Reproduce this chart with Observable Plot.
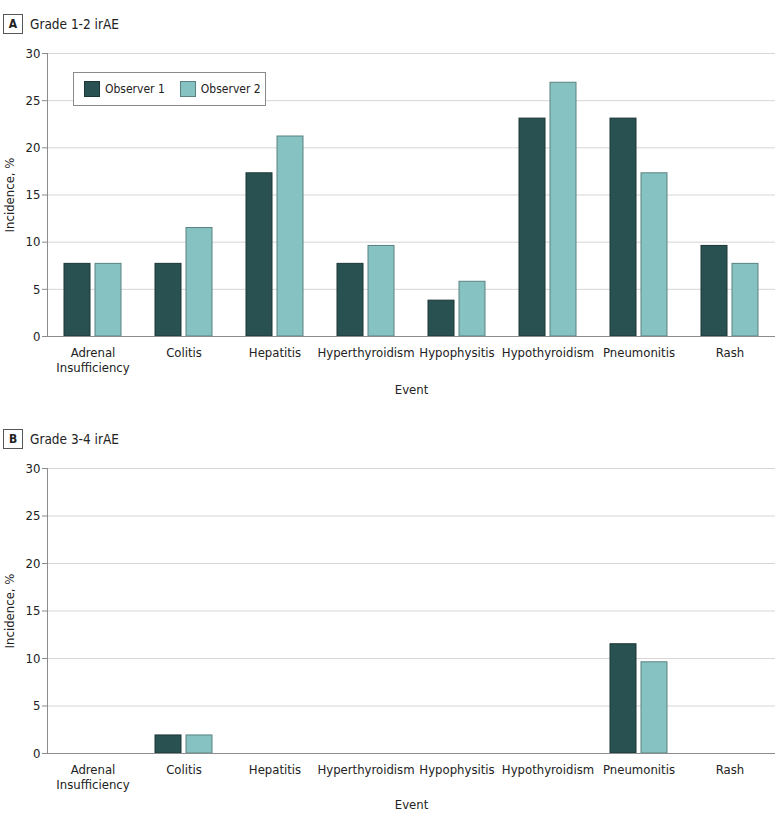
<!DOCTYPE html>
<html><head><meta charset="utf-8">
<script src="https://cdn.jsdelivr.net/npm/d3@7"></script>
<script src="https://cdn.jsdelivr.net/npm/@observablehq/plot@0.6"></script>
<style>
body{margin:0;background:#fff;font-family:"DejaVu Sans Condensed",sans-serif;color:#222;}
.panel{position:relative;width:780px;}
.head{position:relative;}
.tag{position:absolute;left:3px;width:18px;height:18px;border:1px solid #555;font-weight:bold;font-size:12px;text-align:center;line-height:18px;}
.title{position:absolute;left:30px;font-size:13.5px;line-height:18px;white-space:nowrap;}
.legend{position:absolute;left:73px;top:72px;border:1px solid #8a8a8a;background:#fff;display:flex;align-items:center;font-size:12px;padding-left:10px;box-sizing:border-box;width:193px;height:34px;white-space:nowrap;}
.sw{display:inline-block;flex:none;width:16px;height:16px;box-sizing:border-box;margin-right:5px;}
.item{display:flex;flex:none;align-items:center;margin-right:15px;white-space:nowrap;}
svg{display:block;}
</style>
</head><body>
<div id="chart"></div>
<script>
const events = ["Adrenal Insufficiency","Colitis","Hepatitis","Hyperthyroidism","Hypophysitis","Hypothyroidism","Pneumonitis","Rash"];
const observers = ["Observer 1","Observer 2"];
const grade12Obs1 = [7.7, 7.7, 17.3, 7.7, 3.8, 23.1, 23.1, 9.6];
const grade12Obs2 = [7.7, 11.5, 21.2, 9.6, 5.8, 26.9, 17.3, 7.7];
const grade34Obs1 = [0, 1.9, 0, 0, 0, 0, 11.5, 0];
const grade34Obs2 = [0, 1.9, 0, 0, 0, 0, 9.6, 0];
const yTicks = [0, 5, 10, 15, 20, 25, 30];
const panelTags = ["A", "B"];
const panelTitles = ["Grade 1-2 irAE", "Grade 3-4 irAE"];

const fills = ["#2a5151", "#86c2c1"];
const strokes = ["#1b3636", "#5a8282"];
const FONT = '"DejaVu Sans Condensed",sans-serif';

function rowsOf(a, b) {
  const rows = [];
  events.forEach((e, i) => {
    rows.push({event: e, observer: observers[0], value: a[i]});
    rows.push({event: e, observer: observers[1], value: b[i]});
  });
  return rows;
}

function makePlot(rows, marginBottom, labelOffset) {
  return Plot.plot({
    width: 780,
    height: 365,
    marginLeft: 47,
    marginRight: 5,
    marginTop: 18,
    marginBottom,
    style: {fontFamily: FONT, fontSize: "13px", color: "#222", background: "transparent"},
    fx: {domain: events, padding: 0},
    x: {domain: observers, paddingInner: 0.15, paddingOuter: 0.53, axis: null},
    y: {domain: [0, 30]},
    color: {domain: observers, range: fills},
    marks: [
      Plot.gridY(yTicks, {stroke: "#d6d6d6", strokeOpacity: 1}),
      Plot.barY(rows, {
        fx: "event", x: "observer", y: "value", fill: "observer",
        stroke: d => strokes[observers.indexOf(d.observer)],
        strokeWidth: 1,
        filter: d => d.value > 0
      }),
      Plot.ruleY([0], {stroke: "#8c8c8c"}),
      Plot.frame({anchor: "left", facetAnchor: "left", stroke: "#8c8c8c"}),
      Plot.axisY(yTicks, {
        anchor: "left", tickSize: 5, tickPadding: 2, stroke: "#8c8c8c",
        label: "Incidence, %", labelAnchor: "center", labelArrow: "none", labelOffset: 43
      }),
      Plot.axisFx({
        anchor: "bottom", tickSize: 0, tickPadding: 10, lineHeight: 1.15,
        tickFormat: d => d.replace(" ", "\n"),
        label: "Event", labelAnchor: "center", labelArrow: "none", labelOffset
      })
    ]
  });
}

const root = document.getElementById("chart");
const data = [rowsOf(grade12Obs1, grade12Obs2), rowsOf(grade34Obs1, grade34Obs2)];
const headH = [35, 50];
const mb = [64, 62];
const lo = [57, 55];
data.forEach((rows, k) => {
  const panel = document.createElement("div");
  panel.className = "panel";
  const head = document.createElement("div");
  head.className = "head";
  head.style.height = headH[k] + "px";
  const tag = document.createElement("div");
  tag.className = "tag";
  tag.style.top = (headH[k] - 21) + "px";
  tag.textContent = panelTags[k];
  const title = document.createElement("div");
  title.className = "title";
  title.style.top = (headH[k] - 20) + "px";
  title.textContent = panelTitles[k];
  head.append(tag, title);
  panel.append(head, makePlot(rows, mb[k], lo[k]));
  if (k === 0) {
    const leg = document.createElement("div");
    leg.className = "legend";
    observers.forEach((o, i) => {
      const it = document.createElement("span");
      it.className = "item";
      const sw = document.createElement("span");
      sw.className = "sw";
      sw.style.background = fills[i];
      sw.style.border = "1px solid " + strokes[i];
      it.append(sw, document.createTextNode(o));
      leg.append(it);
    });
    panel.append(leg);
  }
  root.append(panel);
});
</script>
</body></html>
